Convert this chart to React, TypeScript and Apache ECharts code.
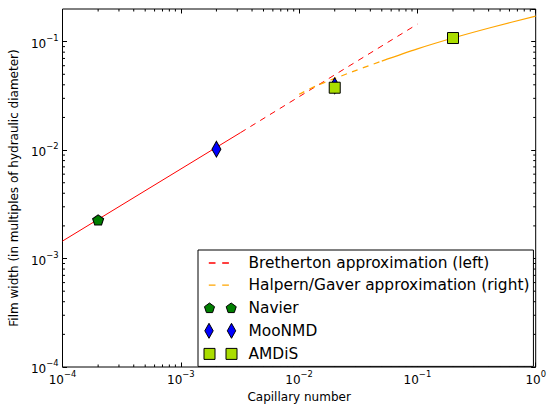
import React, { useEffect, useRef } from 'react';
import * as echarts from 'echarts';

const FONT = 'DejaVu Sans';

// Bretherton approximation (left): solid part and dashed extension
const brethertonSolidCa = [1e-4, 0.0032];
const brethertonSolidH = [0.00145, 0.0145];
const brethertonDashCa = [0.0032, 0.1];
const brethertonDashH = [0.0145, 0.145];

// Halpern/Gaver approximation (right): dashed part and solid part
const halpernDashCa = [0.01, 0.014, 0.028, 0.05];
const halpernDashH = [0.0327, 0.0392, 0.0526, 0.0662];
const halpernSolidCa = [0.05, 0.1, 0.2, 0.42, 1.0];
const halpernSolidH = [0.0662, 0.0858, 0.108, 0.135, 0.172];

// simulation results
const navierCa = [2e-4];
const navierH = [0.00227];
const moonmdCa = [2e-3, 2e-2];
const moonmdH = [0.0102, 0.0392];
const amdisCa = [0.02, 0.2];
const amdisH = [0.0376, 0.108];

// axis ranges and minor tick layout
const xRange = [1e-4, 1];
const yRange = [1e-4, 0.2];
const decades = [1e-4, 1e-3, 1e-2, 1e-1];
const minorMantissas = [2, 3, 4, 5, 6, 7, 8, 9];

const NAMES = {
  bre: 'Bretherton approximation (left)',
  hal: 'Halpern/Gaver approximation (right)',
  nav: 'Navier',
  moo: 'MooNMD',
  amd: 'AMDiS',
};

const pts = (xs: number[], ys: number[]) => xs.map((x, i) => [x, ys[i]]);

const minorVals = (max: number) => {
  const out: number[] = [];
  decades.forEach((d) => minorMantissas.forEach((m) => {
    const v = d * m;
    if (v < max * 0.999) out.push(v);
  }));
  return out;
};

const pentagon = (cx: number, cy: number, r: number) => {
  const a = [[0, -1], [0.951, -0.309], [0.588, 0.809], [-0.588, 0.809], [-0.951, -0.309]];
  return 'M' + a.map(([x, y]) => `${(cx + x * r).toFixed(2)},${(cy + y * r).toFixed(2)}`).join('L') + 'Z';
};
const diamond = (cx: number, cy: number, hw: number, hh: number) =>
  `M${cx},${cy - hh}L${cx + hw},${cy}L${cx},${cy + hh}L${cx - hw},${cy}Z`;
const square = (x: number, y: number, s: number) => `M${x},${y}h${s}v${s}h${-s}Z`;
const BOX = 'M0,0M40,16';

const PENTA_SYMBOL = 'path://' + pentagon(0, 0, 100);
const ICON_DASH = 'path://' + BOX + 'M5.3,7.3h6.7v1.4h-6.7zM18.7,7.3h6.7v1.4h-6.7z';
const ICON_NAV = 'path://' + BOX + pentagon(6, 8.6, 5.3) + pentagon(27.7, 8.6, 5.3);
const ICON_MOO = 'path://' + BOX + diamond(5.5, 8, 4.2, 7.5) + diamond(28, 8, 4.2, 7.5);
const ICON_AMD = 'path://' + BOX + square(0.5, 2.5, 11) + square(22.5, 2.5, 11);

const powLabel = (v: number) => {
  const e = Math.log10(v);
  const r = Math.round(e);
  if (Math.abs(e - r) > 1e-6) return '';
  return `{b|10}{s|${r < 0 ? '\u2212' : ''}${Math.abs(r)}}`;
};

const rich = {
  b: { fontFamily: FONT, fontSize: 12, color: '#000', verticalAlign: 'bottom' },
  s: { fontFamily: FONT, fontSize: 8.4, color: '#000', verticalAlign: 'bottom', padding: [0, 0, 8, 0] },
};

export default function App() {
  const ref = useRef<HTMLDivElement>(null);
  useEffect(() => {
    if (!ref.current) return;
    const chart = echarts.init(ref.current, undefined, { renderer: 'svg' });
    const tickRender = (isX: boolean, len: number) => (params: any, api: any) => {
      const v = api.value(isX ? 0 : 1);
      const cs = params.coordSys;
      const p = api.coord(isX ? [v, 0.01] : [0.01, v]);
      const st = { stroke: '#000', lineWidth: 1 };
      if (isX) {
        const x = p[0];
        return {
          type: 'group',
          children: [
            { type: 'line', shape: { x1: x, y1: cs.y + cs.height, x2: x, y2: cs.y + cs.height - len }, style: st },
            { type: 'line', shape: { x1: x, y1: cs.y, x2: x, y2: cs.y + len }, style: st },
          ],
        };
      }
      const y = p[1];
      return {
        type: 'group',
        children: [
          { type: 'line', shape: { x1: cs.x, y1: y, x2: cs.x + len, y2: y }, style: st },
          { type: 'line', shape: { x1: cs.x + cs.width, y1: y, x2: cs.x + cs.width - len, y2: y }, style: st },
        ],
      };
    };
    const dashed = [6, 5.5];
    const option: any = {
      animation: false,
      backgroundColor: '#fff',
      grid: { left: 62, right: 7, top: 9, bottom: 37, show: true, borderColor: '#000', borderWidth: 1, backgroundColor: 'transparent' },
      xAxis: [
        {
          type: 'log', logBase: 10, min: xRange[0], max: xRange[1],
          name: 'Capillary number', nameLocation: 'middle', nameGap: 24,
          nameTextStyle: { fontFamily: FONT, fontSize: 12, color: '#000' },
          axisLine: { show: false },
          axisTick: { show: true, inside: true, length: 4.5, lineStyle: { color: '#000', width: 1 } },
          axisLabel: { show: true, margin: 3, formatter: powLabel, rich, showMinLabel: true, showMaxLabel: true },
          splitLine: { show: false },
          minorTick: { show: false },
        },
        {
          type: 'log', logBase: 10, min: xRange[0], max: xRange[1], position: 'top',
          axisLine: { show: false },
          axisTick: { show: true, inside: true, length: 4.5, lineStyle: { color: '#000', width: 1 } },
          axisLabel: { show: false },
          splitLine: { show: false },
        },
      ],
      yAxis: [
        {
          type: 'log', logBase: 10, min: yRange[0], max: yRange[1],
          name: 'Film width (in multiples of hydraulic diameter)', nameLocation: 'middle', nameGap: 38,
          nameTextStyle: { fontFamily: FONT, fontSize: 12, color: '#000' },
          axisLine: { show: false },
          axisTick: { show: true, inside: true, length: 4.5, lineStyle: { color: '#000', width: 1 } },
          axisLabel: { show: true, margin: 4, formatter: powLabel, rich, showMinLabel: true, showMaxLabel: false },
          splitLine: { show: false },
        },
        {
          type: 'log', logBase: 10, min: yRange[0], max: yRange[1], position: 'right',
          axisLine: { show: false },
          axisTick: { show: true, inside: true, length: 4.5, lineStyle: { color: '#000', width: 1 } },
          axisLabel: { show: false },
          splitLine: { show: false },
        },
      ],
      legend: {
        orient: 'vertical',
        left: 198,
        top: 250,
        padding: [5, 4, 4, 5],
        itemGap: 6.1,
        itemWidth: 40,
        itemHeight: 16,
        backgroundColor: '#fff',
        borderColor: '#000',
        borderWidth: 1,
        borderRadius: 0,
        selectedMode: false,
        textStyle: { fontFamily: FONT, fontSize: 15.4, color: '#000' },
        data: [
          { name: NAMES.bre, icon: ICON_DASH, itemStyle: { color: '#ff0000', borderWidth: 0 } },
          { name: NAMES.hal, icon: ICON_DASH, itemStyle: { color: '#ffa500', borderWidth: 0 } },
          { name: NAMES.nav, icon: ICON_NAV, itemStyle: { color: '#007f00', borderColor: '#000', borderWidth: 1 } },
          { name: NAMES.moo, icon: ICON_MOO, itemStyle: { color: '#0000ff', borderColor: '#000', borderWidth: 1 } },
          { name: NAMES.amd, icon: ICON_AMD, itemStyle: { color: '#aadd00', borderColor: '#000', borderWidth: 1 } },
        ],
      },
      series: [
        {
          type: 'custom', name: 'xminor', silent: true, clip: false,
          renderItem: tickRender(true, 2.5),
          data: minorVals(xRange[1]).map((v) => [v, 0.01]),
          z: 1,
        },
        {
          type: 'custom', name: 'yminor', silent: true, clip: false,
          renderItem: tickRender(false, 2.5),
          data: minorVals(yRange[1]).map((v) => [0.01, v]),
          z: 1,
        },
        {
          type: 'line', name: NAMES.bre, data: pts(brethertonSolidCa, brethertonSolidH),
          symbol: 'none', showSymbol: false, lineStyle: { color: '#ff0000', width: 1 }, itemStyle: { color: '#ff0000' },
        },
        {
          type: 'line', name: NAMES.bre, data: pts(brethertonDashCa, brethertonDashH),
          symbol: 'none', showSymbol: false, lineStyle: { color: '#ff0000', width: 1, type: dashed }, itemStyle: { color: '#ff0000' },
        },
        {
          type: 'line', name: NAMES.hal, data: pts(halpernDashCa, halpernDashH), smooth: 0.3,
          symbol: 'none', showSymbol: false, lineStyle: { color: '#ffa500', width: 1.2, type: dashed }, itemStyle: { color: '#ffa500' },
        },
        {
          type: 'line', name: NAMES.hal, data: pts(halpernSolidCa, halpernSolidH), smooth: 0.3,
          symbol: 'none', showSymbol: false, lineStyle: { color: '#ffa500', width: 1.2 }, itemStyle: { color: '#ffa500' },
        },
        {
          type: 'scatter', name: NAMES.nav, data: pts(navierCa, navierH),
          symbol: PENTA_SYMBOL, symbolSize: [11, 10.5], symbolKeepAspect: true,
          itemStyle: { color: '#007f00', borderColor: '#000', borderWidth: 1, opacity: 1 }, z: 3,
        },
        {
          type: 'scatter', name: NAMES.moo, data: pts(moonmdCa, moonmdH),
          symbol: 'diamond', symbolSize: [9, 16],
          itemStyle: { color: '#0000ff', borderColor: '#000', borderWidth: 1, opacity: 1 }, z: 3,
        },
        {
          type: 'scatter', name: NAMES.amd, data: pts(amdisCa, amdisH),
          symbol: 'rect', symbolSize: 11,
          itemStyle: { color: '#aadd00', borderColor: '#000', borderWidth: 1, opacity: 1 }, z: 3,
        },
      ],
    };
    chart.setOption(option);
    return () => chart.dispose();
  }, []);
  return <div ref={ref} style={{ position: 'fixed', left: 0, top: 0, width: 549, height: 408 }} />;
}
